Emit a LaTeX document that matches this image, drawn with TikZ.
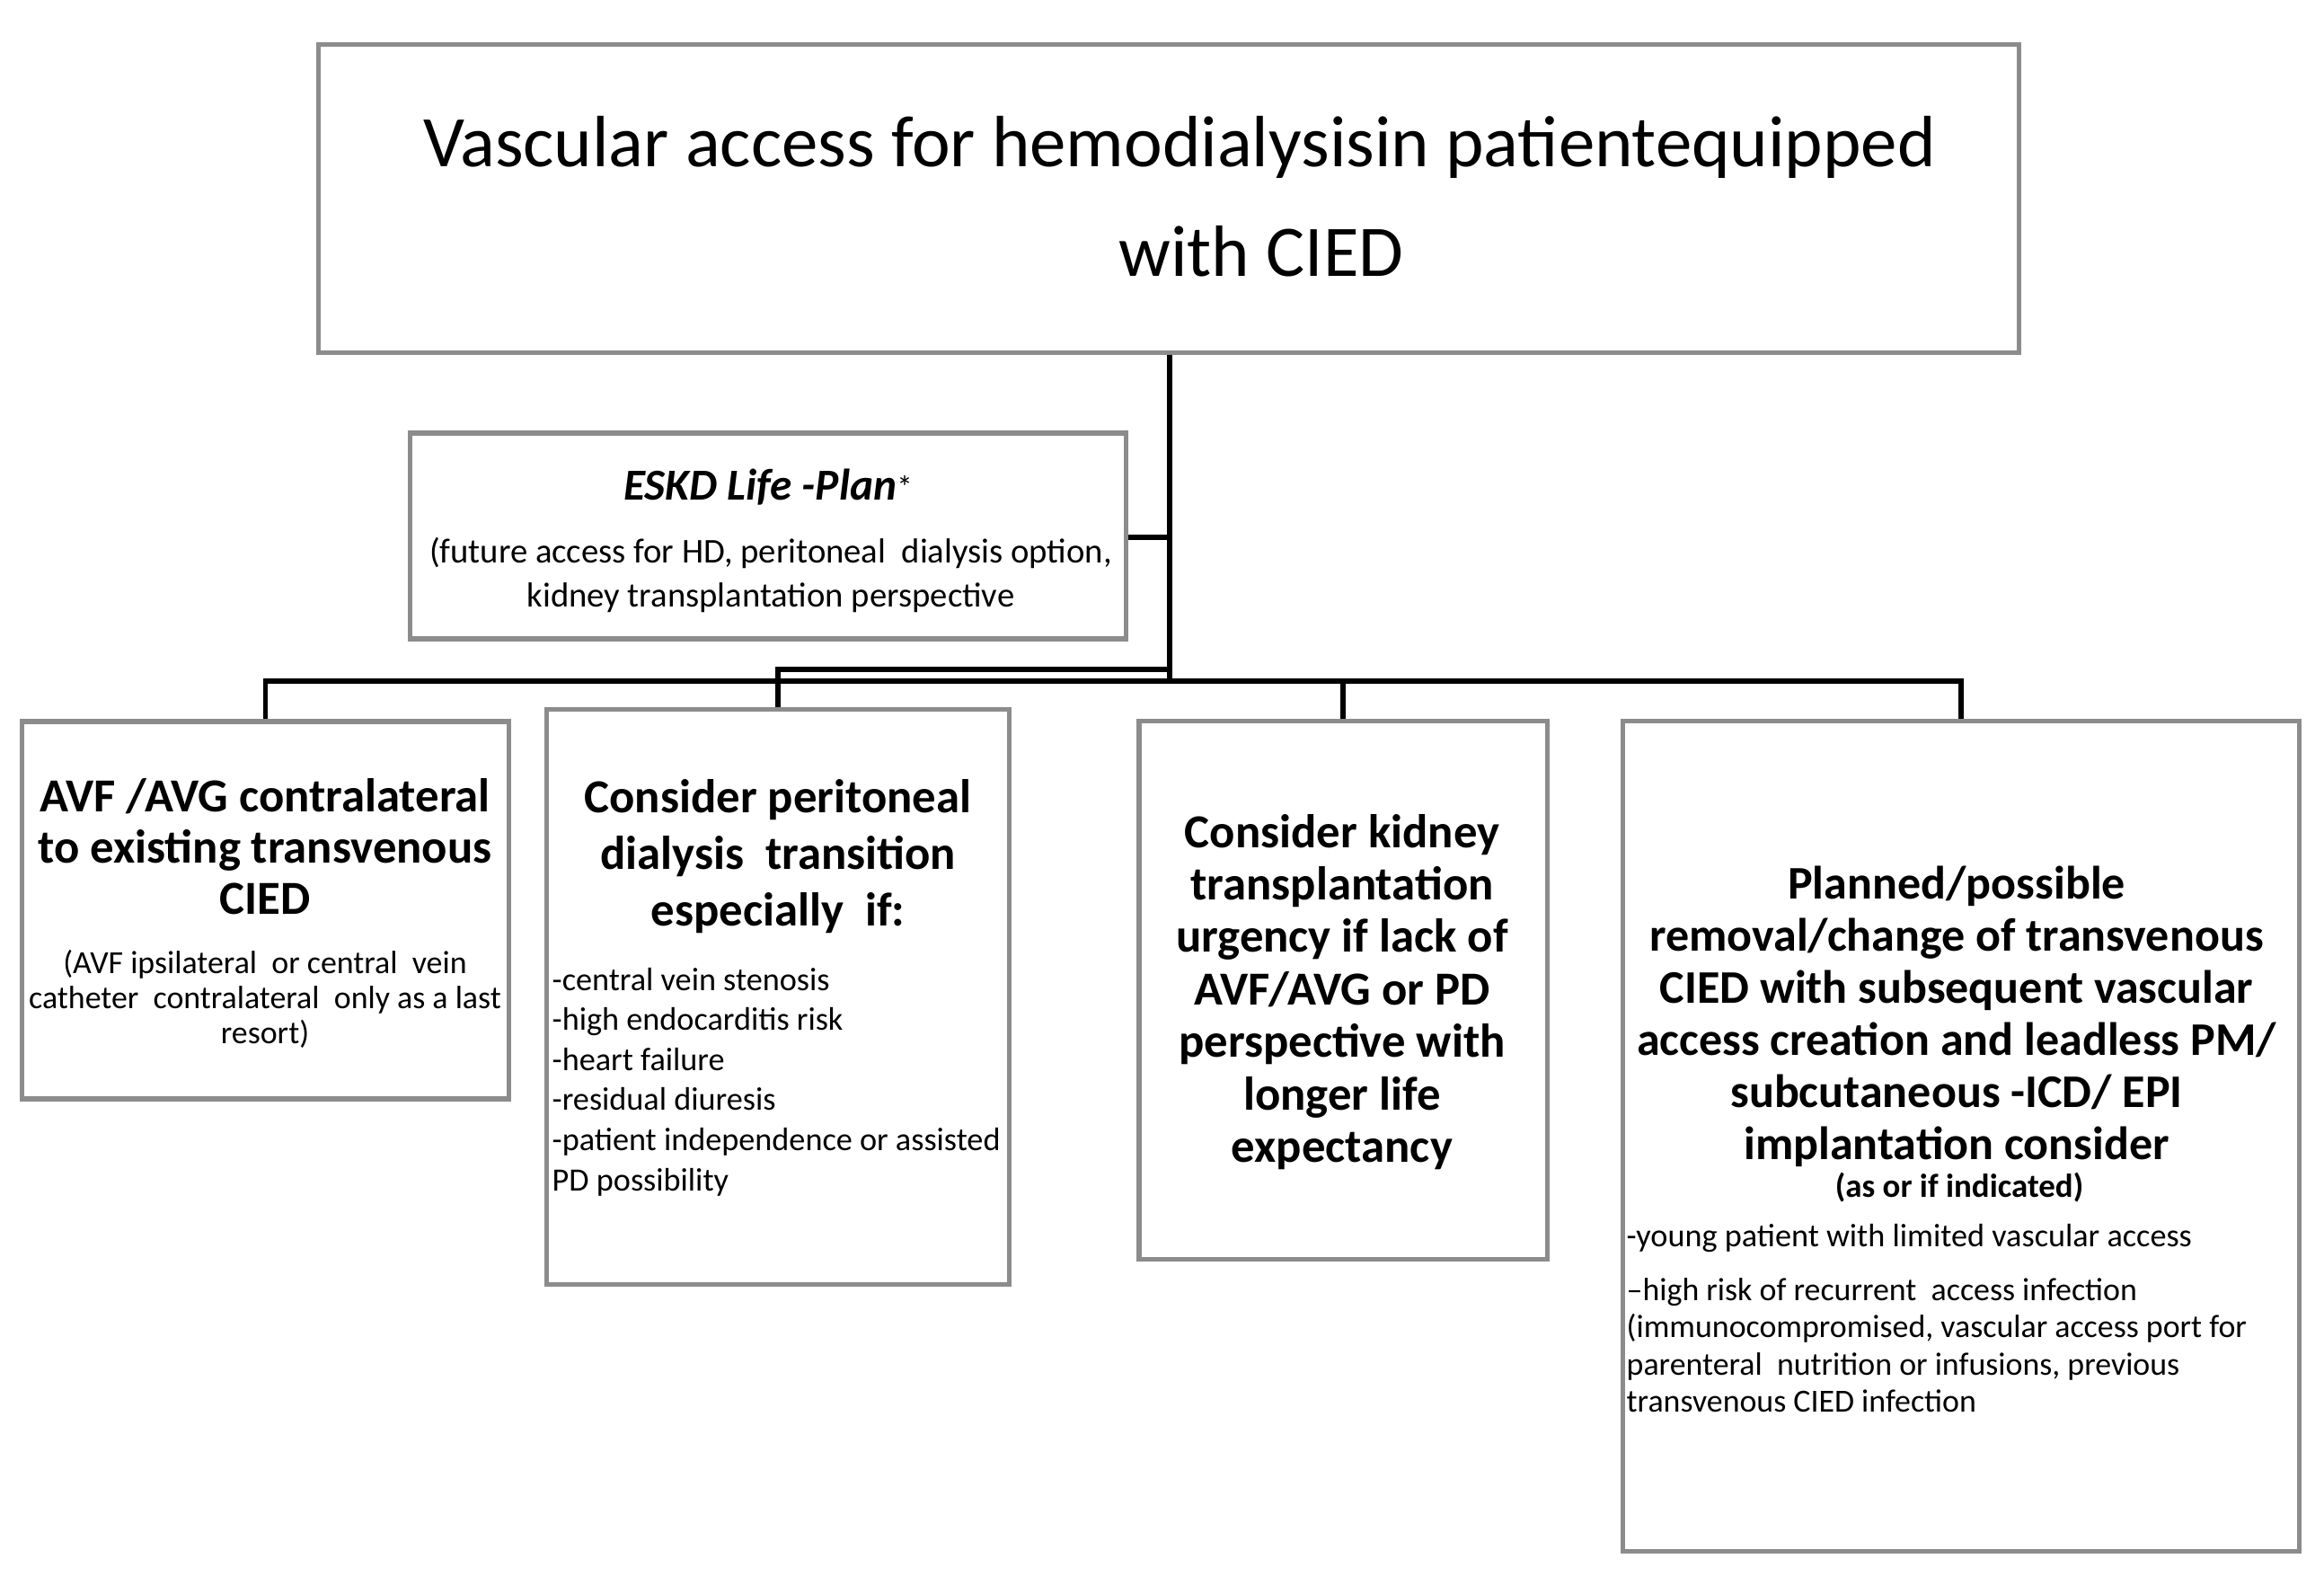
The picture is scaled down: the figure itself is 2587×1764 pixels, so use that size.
\documentclass[tikz,border=0pt]{standalone}
\usepackage{fontspec}
\setmainfont{Carlito}
\definecolor{boxgray}{RGB}{140,140,140}
\begin{document}
\begin{tikzpicture}[x=0.01cm,y=-0.01cm,
  box/.style={draw=boxgray,line width=1.5pt,fill=white,inner sep=0,rectangle},
  conn/.style={draw=black,line width=1.7pt,line join=miter},
  txt/.style={inner sep=0,align=center},
  lst/.style={inner sep=0,align=left,anchor=west},
  head/.style={font=\bfseries\fontsize{15}{16.6}\selectfont},
  body/.style={font=\fontsize{10.3}{12.7}\selectfont}]
\useasboundingbox[fill=white] (0,0) rectangle (2587,1764);

% boxes
\node[box,minimum width=18.92cm,minimum height=3.435cm] (top) at (1301,221) {};
\node[box,minimum width=7.96cm,minimum height=2.29cm] (eskd) at (855,596.5) {};
\node[box,minimum width=5.41cm,minimum height=4.20cm] (avf) at (295.5,1013) {};
\node[box,minimum width=5.14cm,minimum height=6.39cm] (pd) at (866,1109.5) {};
\node[box,minimum width=4.54cm,minimum height=5.98cm] (kid) at (1495,1102) {};
\node[box,minimum width=7.52cm,minimum height=9.23cm] (plan) at (2183,1264.5) {};

% connectors
\coordinate (busT) at (1302,758);
\coordinate (eskdj) at (1302,598);
\coordinate (pdj) at (1302,745);
\draw[conn] (top.south -| busT) -- (busT);
\draw[conn] (eskd.east |- eskdj) -- (eskdj);
\draw[conn] (pdj) -- (pdj -| pd.north) -- (pd.north);
\draw[conn] (avf.north) -- (avf.north |- busT) -- (plan.north |- busT) -- (plan.north);
\draw[conn] (kid.north |- busT) -- (kid.north);

% title
\node[txt,anchor=base,font=\fontsize{23}{28}\selectfont] (t1) at (1313,186) {Vascular access for hemodialysisin patientequipped};
\node[txt,anchor=base,font=\fontsize{23}{28}\selectfont] (t2) at (1404,308) {with CIED};

% ESKD
\node[txt,font=\bfseries\itshape\fontsize{14}{16}\selectfont] (e1) at (855,542) {ESKD Life -Plan\raisebox{0.1ex}{\normalfont\fontsize{10}{10}\selectfont*}};
\node[txt,font=\fontsize{11}{13.7}\selectfont] (e2) at (858,640) {(future access for HD, peritoneal\ \ dialysis option,\\kidney transplantation perspective};

% AVF
\node[txt,font=\bfseries\fontsize{15}{16.3}\selectfont] (a1) at (295,942) {AVF /AVG contralateral\\to existing transvenous\\CIED};
\node[txt,font=\fontsize{10.2}{11.1}\selectfont] (a2) at (295,1112) {(AVF ipsilateral\ \ or central\ \ vein\\catheter\ \ contralateral\ \ only as a last\\resort)};

% PD
\node[txt,font=\bfseries\fontsize{15}{18}\selectfont] (p1) at (866,953) {Consider peritoneal\\dialysis\ \ transition\\especially\ \ if:};
\node[lst,body] (p2) at (614,1204) {-central vein stenosis\\-high endocarditis risk\\-heart failure\\-residual diuresis\\-patient independence or assisted\\PD possibility};

% kidney
\node[txt,head] (k1) at (1494,1104) {Consider kidney\\transplantation\\urgency if lack of\\AVF/AVG or PD\\perspective with\\longer life\\expectancy};

% planned
\node[txt,font=\bfseries\fontsize{14.8}{16.5}\selectfont] (q1) at (2178,1131) {Planned/possible\\removal/change\ of transvenous\\CIED with\ subsequent vascular\\access\ creation and leadless PM/\\subcutaneous -ICD/ EPI\\implantation\ consider};
\node[txt,font=\bfseries\fontsize{10.5}{12}\selectfont] (q2) at (2181,1322) {(as or if indicated)};
\node[lst,body] (q3) at (1810,1378) {-young patient with limited\ vascular access};
\node[lst,font=\fontsize{10.2}{11.8}\selectfont] (q4) at (1810,1497) {--high risk of recurrent\ \ access infection\\(immunocompromised, vascular access port for\\parenteral\ \ nutrition or infusions, previous\\transvenous CIED infection};
\end{tikzpicture}
\end{document}
